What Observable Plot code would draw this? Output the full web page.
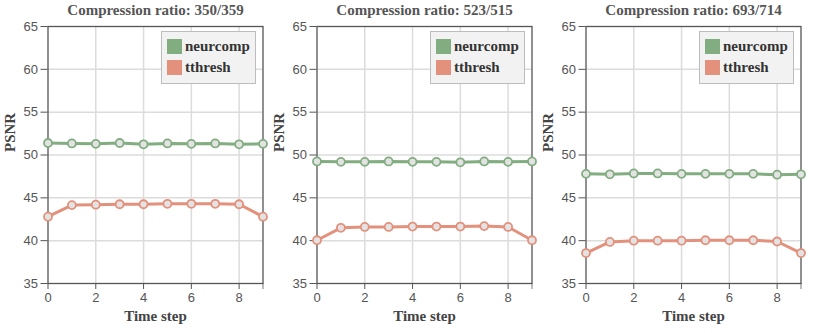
<!DOCTYPE html>
<html>
<head>
<meta charset="utf-8">
<script src="https://cdn.jsdelivr.net/npm/d3@7"></script>
<script src="https://cdn.jsdelivr.net/npm/@observablehq/plot@0.6"></script>
<style>
  html, body { margin: 0; padding: 0; background: #fff; }
  #wrap { display: flex; flex-direction: row; width: 814px; height: 333px; }
  .panel { position: relative; width: 269px; height: 333px; }
  .legend { position: absolute; left: 161px; top: 31px; width: 93px; height: 51px;
    background: #f2f2f2; border: 1.5px solid #bdbdbd; box-sizing: content-box; }
  .legend .item { position: absolute; left: 5px; height: 16px; display: flex; align-items: center;
    font-family: "Liberation Serif", "DejaVu Serif", serif; font-weight: bold; font-size: 15px; color: #333; white-space: nowrap; }
  .legend .sw { width: 15px; height: 15px; margin-right: 3px; }
</style>
</head>
<body>
<div id="wrap"></div>
<script>
const steps = [0, 1, 2, 3, 4, 5, 6, 7, 8, 9];
const titles = ["Compression ratio: 350/359", "Compression ratio: 523/515", "Compression ratio: 693/714"];
const seriesNames = ["neurcomp", "tthresh"];
const seriesColors = ["#82ad80", "#e3917c"];

const neurcomp1 = [51.4, 51.35, 51.3, 51.4, 51.25, 51.35, 51.3, 51.35, 51.25, 51.3];
const tthresh1  = [42.8, 44.15, 44.2, 44.25, 44.25, 44.3, 44.3, 44.3, 44.25, 42.8];
const neurcomp2 = [49.25, 49.2, 49.2, 49.25, 49.2, 49.2, 49.15, 49.25, 49.2, 49.25];
const tthresh2  = [40.05, 41.5, 41.6, 41.6, 41.65, 41.65, 41.65, 41.7, 41.6, 40.05];
const neurcomp3 = [47.8, 47.75, 47.85, 47.85, 47.8, 47.8, 47.8, 47.8, 47.7, 47.75];
const tthresh3  = [38.55, 39.85, 40.0, 40.0, 40.0, 40.05, 40.05, 40.05, 39.9, 38.55];

const yTicks = [35, 40, 45, 50, 55, 60, 65];
const xTicks = [0, 2, 4, 6, 8];
const yLabel = "PSNR";
const xLabel = "Time step";

const panels = [
  [neurcomp1, tthresh1],
  [neurcomp2, tthresh2],
  [neurcomp3, tthresh3]
];

const serif = "'Liberation Serif', 'DejaVu Serif', serif";
const sans = "'Liberation Sans', Arial, sans-serif";
const wrap = document.getElementById("wrap");

panels.forEach((series, p) => {
  const rows = [];
  series.forEach((vals, s) => vals.forEach((v, i) => rows.push({step: steps[i], value: v, name: seriesNames[s]})));

  const seriesMarks = [];
  seriesNames.forEach((nm, s) => {
    const data = rows.filter(d => d.name === nm);
    seriesMarks.push(Plot.line(data, {x: "step", y: "value", stroke: seriesColors[s], strokeWidth: 3}));
    seriesMarks.push(Plot.dot(data, {x: "step", y: "value", r: 4, fill: "#e3e3e3", stroke: seriesColors[s], strokeWidth: 1.8}));
  });

  const chart = Plot.plot({
    width: 269,
    height: 333,
    marginLeft: 47.5,
    marginRight: 6.5,
    marginTop: 26,
    marginBottom: 50,
    style: {background: "transparent", overflow: "visible"},
    x: {domain: [0, 9]},
    y: {domain: [35, 65]},
    marks: [
      Plot.gridY(yTicks.slice(1, -1), {stroke: "#dcdcdc", strokeOpacity: 1, strokeWidth: 1.5}),
      Plot.gridX(xTicks.slice(1), {stroke: "#dcdcdc", strokeOpacity: 1, strokeWidth: 1.5}),
      Plot.ruleX([9], {y1: 35, y2: 35, insetBottom: -6, stroke: "#999", strokeWidth: 1.3}),
      Plot.frame({stroke: "#555", strokeWidth: 1.3}),
      Plot.axisY(yTicks, {tickSize: 7, tickPadding: 3, fontSize: 13, fontFamily: sans, color: "#555", stroke: "#555", label: null}),
      Plot.axisX(xTicks, {tickSize: 6, tickPadding: 3, fontSize: 13, fontFamily: sans, color: "#555", stroke: "#555", label: null}),
      ...seriesMarks,
      Plot.text([titles[p]], {frameAnchor: "top", lineAnchor: "middle", dy: -16, text: d => d, fontFamily: serif, fontWeight: "bold", fontSize: 15, fill: "#555"}),
      Plot.text([yLabel], {frameAnchor: "left", lineAnchor: "middle", dx: -38, dy: -3, rotate: -90, text: d => d, fontFamily: serif, fontWeight: "bold", fontSize: 15, fill: "#444"}),
      Plot.text([xLabel], {frameAnchor: "bottom", lineAnchor: "middle", dy: 33, text: d => d, fontFamily: serif, fontWeight: "bold", fontSize: 15, fill: "#444"})
    ]
  });

  const panel = document.createElement("div");
  panel.className = "panel";
  panel.appendChild(chart);

  const legend = document.createElement("div");
  legend.className = "legend";
  seriesNames.forEach((nm, s) => {
    const item = document.createElement("div");
    item.className = "item";
    item.style.top = (6 + s * 21.5) + "px";
    const sw = document.createElement("div");
    sw.className = "sw";
    sw.style.background = seriesColors[s];
    item.appendChild(sw);
    const t = document.createElement("span");
    t.textContent = nm;
    item.appendChild(t);
    legend.appendChild(item);
  });
  panel.appendChild(legend);
  wrap.appendChild(panel);
});
</script>
</body>
</html>
